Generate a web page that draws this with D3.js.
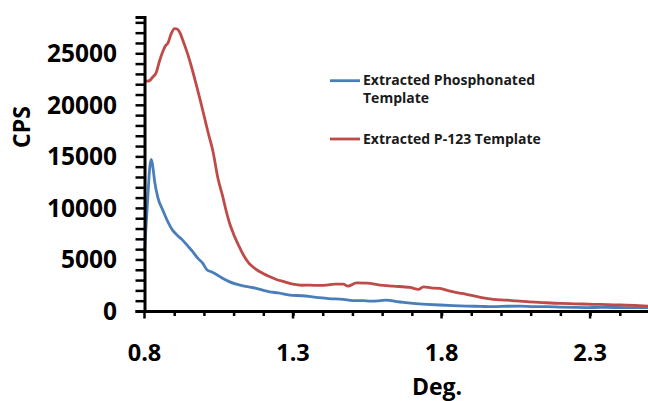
<!DOCTYPE html>
<html>
<head>
<meta charset="utf-8">
<script src="https://cdn.jsdelivr.net/npm/d3@7"></script>
<style>
  html, body { margin: 0; padding: 0; background: #fff; }
  svg { display: block; font-family: "Open Sans", "DejaVu Sans", sans-serif; }
</style>
</head>
<body>
<div id="chart"></div>
<script>
// Extracted Phosphonated Template (blue)
const phosDeg = [0.800, 0.810, 0.818, 0.823, 0.828, 0.834, 0.845, 0.862, 0.878, 0.895, 0.912, 0.929, 0.946, 0.963, 0.980, 0.997, 1.010, 1.025, 1.045, 1.064, 1.085, 1.109, 1.140, 1.177, 1.200, 1.221, 1.250, 1.289, 1.330, 1.379, 1.420, 1.469, 1.500, 1.536, 1.560, 1.592, 1.615, 1.650, 1.705, 1.750, 1.795, 1.840, 1.885, 1.930, 1.974, 2.020, 2.064, 2.110, 2.154, 2.200, 2.244, 2.290, 2.334, 2.380, 2.420, 2.460, 2.495];
const phosCps = [5700, 10500, 14000, 14700, 14000, 12600, 11000, 9750, 8700, 7820, 7300, 6850, 6300, 5730, 5100, 4600, 4000, 3800, 3500, 3150, 2850, 2600, 2400, 2190, 2000, 1860, 1750, 1540, 1480, 1320, 1200, 1130, 1000, 1000, 950, 1000, 1060, 900, 740, 650, 580, 520, 480, 450, 420, 460, 480, 430, 420, 380, 350, 330, 350, 340, 330, 340, 330];

// Extracted P-123 Template (red)
const p123Deg = [0.800, 0.809, 0.817, 0.828, 0.839, 0.850, 0.862, 0.870, 0.879, 0.890, 0.901, 0.910, 0.918, 0.930, 0.946, 0.960, 0.974, 0.988, 1.002, 1.016, 1.030, 1.047, 1.064, 1.075, 1.087, 1.098, 1.109, 1.123, 1.137, 1.150, 1.165, 1.180, 1.199, 1.220, 1.244, 1.270, 1.300, 1.330, 1.356, 1.385, 1.413, 1.440, 1.469, 1.485, 1.514, 1.550, 1.592, 1.637, 1.694, 1.722, 1.739, 1.765, 1.795, 1.820, 1.840, 1.870, 1.896, 1.935, 1.974, 2.019, 2.050, 2.087, 2.140, 2.199, 2.250, 2.311, 2.360, 2.401, 2.450, 2.495];
const p123Cps = [22400, 22300, 22350, 22700, 23100, 24200, 25190, 25700, 26000, 26900, 27400, 27350, 27060, 26200, 24870, 23500, 21980, 20400, 18760, 17100, 15540, 12900, 11030, 9700, 8460, 7600, 6850, 6000, 5240, 4700, 4280, 3950, 3640, 3350, 3060, 2850, 2600, 2500, 2510, 2480, 2510, 2600, 2600, 2410, 2730, 2700, 2510, 2410, 2290, 2090, 2350, 2250, 2190, 2000, 1860, 1700, 1540, 1300, 1130, 1060, 980, 900, 820, 740, 700, 650, 620, 580, 540, 480];

const xTickLabels = [0.8, 1.3, 1.8, 2.3];
const yTickLabels = [0, 5000, 10000, 15000, 20000, 25000];

const seriesNames = ["Extracted Phosphonated Template", "Extracted P-123 Template"];
const seriesColors = ["#4a7ebb", "#be4b48"];

const width = 648, height = 401;
const x0 = 144.5, xEnd = 648, y0 = 311, yTop = 17;

const svg = d3.select("#chart").append("svg")
    .attr("width", width)
    .attr("height", height);

const xScale = d3.scaleLinear().domain([0.8, 2.495]).range([x0, xEnd]);
const yScale = d3.scaleLinear().domain([0, 28520]).range([y0, yTop]);

// lines first, axes on top
const line = d3.line()
    .x(d => xScale(d[0]))
    .y(d => yScale(d[1]))
    .curve(d3.curveMonotoneX);

const series = [
    d3.zip(phosDeg, phosCps),
    d3.zip(p123Deg, p123Cps)
];

svg.append("g").selectAll("path")
    .data(series)
    .enter()
    .append("path")
    .attr("d", line)
    .attr("fill", "none")
    .attr("stroke", (d, i) => seriesColors[i])
    .attr("stroke-width", 2.8)
    .attr("stroke-linejoin", "round");

// y axis: ticks every 1000, labels every 5000
const yMinor = d3.range(0, 28001, 1000);
const yAxis = d3.axisLeft(yScale)
    .tickValues(yMinor)
    .tickSize(9)
    .tickFormat("");

svg.append("g")
    .attr("transform", `translate(${x0},0)`)
    .call(yAxis)
    .call(g => g.select(".domain").attr("stroke", "#000").attr("stroke-width", 3))
    .call(g => g.selectAll(".tick line").attr("stroke", "#000").attr("stroke-width", 2.5));

svg.append("g").selectAll("text")
    .data(yTickLabels)
    .enter()
    .append("text")
    .attr("x", 117)
    .attr("y", d => yScale(d))
    .attr("dy", "0.36em")
    .attr("text-anchor", "end")
    .attr("font-size", 24.5)
    .attr("font-weight", 700)
    .attr("fill", "#000")
    .text(d => d);

// x axis: minor every 0.1, major every 0.5
const xMinor = d3.range(9, 25).map(v => v / 10);
const xAxis = d3.axisBottom(xScale)
    .tickValues(xMinor)
    .tickSize(5)
    .tickSizeOuter(0)
    .tickFormat("");

svg.append("g")
    .attr("transform", `translate(0,${y0})`)
    .call(xAxis)
    .call(g => g.select(".domain").attr("stroke", "#000").attr("stroke-width", 3))
    .call(g => g.selectAll(".tick line").attr("stroke", "#000").attr("stroke-width", 2.5));

svg.append("g").selectAll("line")
    .data(xTickLabels)
    .enter()
    .append("line")
    .attr("x1", d => xScale(d))
    .attr("x2", d => xScale(d))
    .attr("y1", y0)
    .attr("y2", y0 + 7.5)
    .attr("stroke", "#000")
    .attr("stroke-width", 2.5);

svg.append("g").selectAll("text")
    .data(xTickLabels)
    .enter()
    .append("text")
    .attr("x", d => xScale(d))
    .attr("y", 361)
    .attr("text-anchor", "middle")
    .attr("font-size", 23.5)
    .attr("font-weight", 700)
    .attr("fill", "#000")
    .text(d => d3.format(".1f")(d));

// axis titles
svg.append("text")
    .attr("x", 437)
    .attr("y", 395)
    .attr("text-anchor", "middle")
    .attr("font-size", 23)
    .attr("font-weight", 700)
    .attr("fill", "#000")
    .text("Deg.");

svg.append("text")
    .attr("transform", "translate(30,127) rotate(-90)")
    .attr("text-anchor", "middle")
    .attr("font-size", 23)
    .attr("font-weight", 700)
    .attr("fill", "#000")
    .text("CPS");

// legend
const legendRows = [
    { lines: ["Extracted Phosphonated", "Template"], y: 80.7 },
    { lines: ["Extracted P-123 Template"], y: 139 }
];

const legend = svg.append("g");
legendRows.forEach((row, i) => {
    legend.append("line")
        .attr("x1", 330).attr("x2", 360)
        .attr("y1", row.y).attr("y2", row.y)
        .attr("stroke", seriesColors[i])
        .attr("stroke-width", 2.8);
    const t = legend.append("text")
        .attr("x", 363)
        .attr("y", row.y + 4.5)
        .attr("font-size", 14)
        .attr("font-weight", 700)
        .attr("fill", "#1a1a1a");
    row.lines.forEach((s, j) => {
        t.append("tspan")
            .attr("x", 363)
            .attr("dy", j === 0 ? 0 : 17.5)
            .text(s);
    });
});
</script>
</body>
</html>
